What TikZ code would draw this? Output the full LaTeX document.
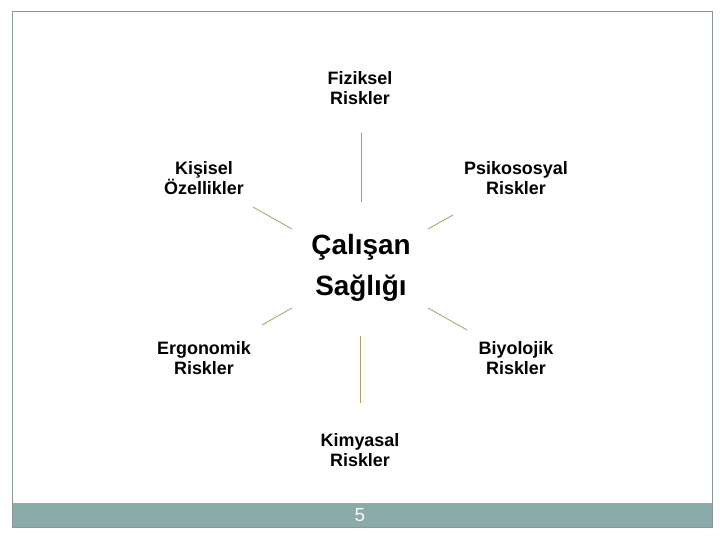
\documentclass[tikz,border=0pt]{standalone}
\usepackage{fontspec}
\setmainfont{Liberation Sans}
\definecolor{frameg}{HTML}{8A9898}
\definecolor{barg}{HTML}{8BAAAA}
\definecolor{olive}{HTML}{A8A060}
\tikzset{
  lbl/.style={font=\bfseries\fontsize{18}{20}\selectfont, align=center, inner sep=0pt},
  spoke/.style={draw=olive, line width=0.8bp},
}
\begin{document}
\begin{tikzpicture}[x=1bp,y=-1bp]
\useasboundingbox (0,0) rectangle (720,540);
\fill[white] (0,0) rectangle (720,540);
\fill[barg] (12,503) rectangle (712,527);
\draw[frameg, line width=1bp] (12,12) rectangle (712,527);
\node[text=white!92!barg, font=\fontsize{19}{20}\selectfont, inner sep=0pt] (pg) at (360,515) {5};

\node[font=\bfseries\fontsize{28}{41}\selectfont, align=center, inner sep=0pt] (c) at (361,268) {Çalışan\\Sağlığı};

\node[lbl] (f) at (360,88) {Fiziksel\\Riskler};
\node[lbl] (k) at (204,178) {Kişisel\\Özellikler};
\node[lbl] (p) at (516,178) {Psikososyal\\Riskler};
\node[lbl] (e) at (204,358) {Ergonomik\\Riskler};
\node[lbl] (b) at (516,358) {Biyolojik\\Riskler};
\node[lbl] (m) at (360,450) {Kimyasal\\Riskler};

\coordinate (t1) at (361,133); \coordinate (t2) at (361,202);
\coordinate (ul1) at (253,207); \coordinate (ul2) at (292,229);
\coordinate (ur1) at (453,215); \coordinate (ur2) at (428,229);
\coordinate (ll1) at (262,325); \coordinate (ll2) at (292,308);
\coordinate (lr1) at (467,330); \coordinate (lr2) at (428,308);
\coordinate (b1) at (360,336); \coordinate (b2) at (360,403);
\draw[spoke] (t1) -- (t2);
\draw[spoke] (ul1) -- (ul2);
\draw[spoke] (ur1) -- (ur2);
\draw[spoke] (ll1) -- (ll2);
\draw[spoke] (lr1) -- (lr2);
\draw[spoke] (b1) -- (b2);
\end{tikzpicture}
\end{document}
